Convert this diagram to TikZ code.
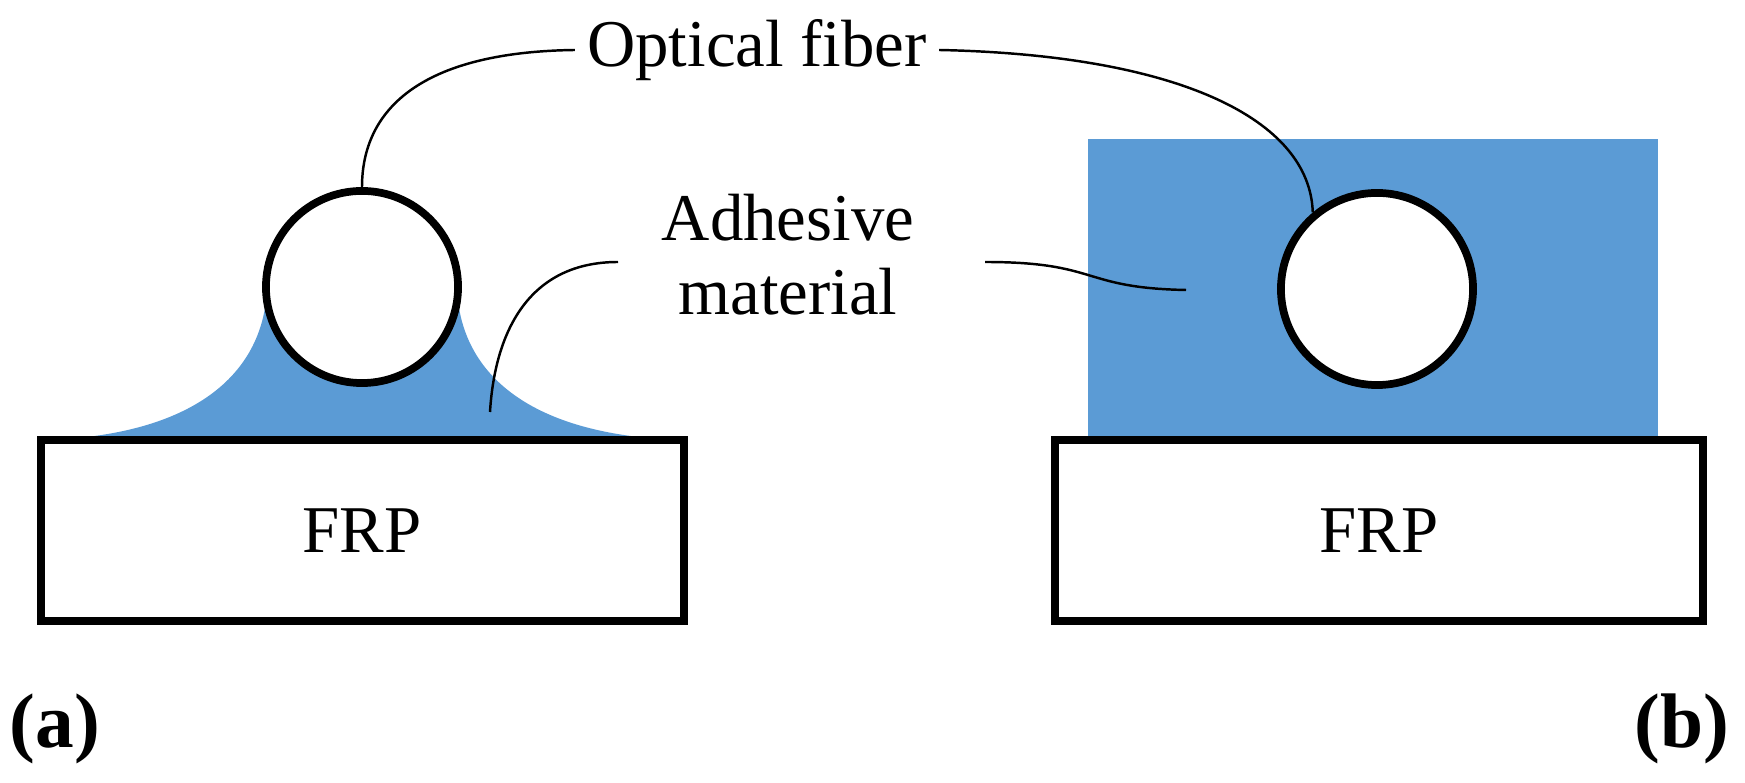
\documentclass[tikz,border=0pt]{standalone}
\usepackage{fontspec}
\setmainfont{Liberation Serif}
\begin{document}
\begin{tikzpicture}[x=0.01cm,y=-0.01cm,
  box/.style={draw,line width=2.2pt,fill=white},
  fib/.style={draw,line width=2.2pt,fill=white,circle,inner sep=0pt,minimum size=1.92cm},
  lead/.style={draw,line width=0.7pt},
  lab/.style={font=\fontsize{19}{23}\selectfont,align=center},
  tag/.style={font=\fontsize{22}{26}\selectfont\bfseries}]
\definecolor{adh}{HTML}{5B9BD5}
\useasboundingbox (0,0) rectangle (1745,783);
% (a)
\fill[adh] (48,440) .. controls (200,434) and (264,370) .. (267,288) -- (457,288) .. controls (460,370) and (524,434) .. (678,440) -- cycle;
\draw[box] (41,440) rectangle (684,621);
\node[lab] (frpa) at (362,531) {FRP};
\node[fib] (fa) at (362,287) {};
% (b)
\fill[adh] (1088,139) rectangle (1658,440);
\draw[box] (1055,440) rectangle (1703,621);
\node[lab] (frpb) at (1379,531) {FRP};
\node[fib] (fb) at (1377,289) {};
% labels
\node[lab] (of) at (757,50) {Optical fiber};
\node[lab] (ad) at (788,255) {Adhesive\\[-2pt]material};
\coordinate (e1) at (1186,290);
\draw[lead] (of.west) .. controls (420,52) and (362,110) .. (fa.north);
\draw[lead] (of.east) .. controls (1180,55) and (1310,120) .. (fb.130);
\draw[lead] (618,262) .. controls (530,262) and (495,330) .. (490,412);
\draw[lead] (985,262) .. controls (1100,262) and (1080,288) .. (e1);
\node[tag] (ta) at (55,729) {(a)};
\node[tag] (tb) at (1682,729) {(b)};
\end{tikzpicture}
\end{document}
